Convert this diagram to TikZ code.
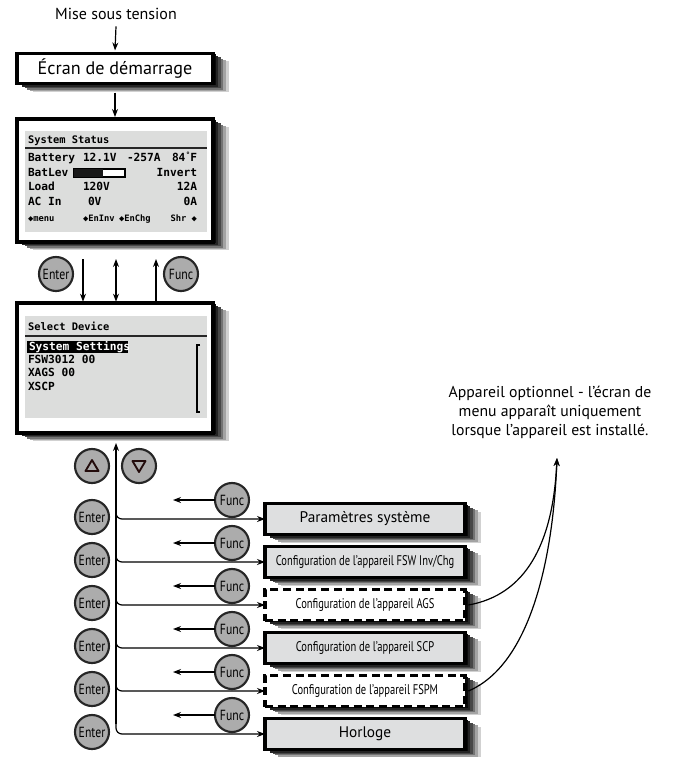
\documentclass[tikz,border=0pt]{standalone}
\usepackage{fontspec}
\usepackage{graphicx}
\setmainfont{PT Sans}
\newfontfamily\lcd{DejaVu Sans Mono}
\usetikzlibrary{arrows.meta}
\definecolor{lcdgray}{RGB}{220,221,220}
\definecolor{boxgray}{RGB}{222,223,224}
\definecolor{btngray}{RGB}{172,172,172}
\definecolor{tricol}{RGB}{35,12,12}
\newcommand{\cond}[1]{\scalebox{0.8}[1]{#1}}
\newcommand{\condb}[1]{\scalebox{0.75}[1]{#1}}
\newcommand{\shbox}[4]{%
  \foreach \k/\cc in {6/18,5/36,4/55,3/72,2/86,1/96}{%
    \fill[black!\cc] ({#1+2.6*\k},{#2+1.4*\k}) rectangle ({#3+2.6*\k},{#4+1.4*\k});
  }}
\begin{document}
\begin{tikzpicture}[x=0.75pt,y=-0.75pt,
  every node/.style={inner sep=0pt,outer sep=0pt},
  framebox/.style={draw=black,line width=2.3pt,fill=white,minimum width=147pt},
  menubox/.style={draw=black,line width=2.3pt,fill=boxgray,minimum width=150pt,minimum height=23.5pt},
  optbox/.style={menubox,fill=white,dash pattern=on 6pt off 3.5pt},
  btn/.style={circle,draw=black!85,line width=1.6pt,fill=btngray,minimum size=25.5pt,font=\fontsize{11}{11}\selectfont},
  arr/.style={-{Stealth[length=6pt,width=4.5pt]},line width=0.9pt},
  darr/.style={{Stealth[length=6pt,width=4.5pt]}-{Stealth[length=6pt,width=4.5pt]},line width=0.9pt},
  lcdt/.style={anchor=base west,font=\lcd\bfseries\fontsize{8.4}{8.4}\selectfont},
  lcdh/.style={anchor=base west,font=\lcd\bfseries\fontsize{7.8}{7.8}\selectfont},
  lcdr/.style={lcdt,anchor=base east},
  lcdf/.style={anchor=base west,font=\lcd\bfseries\fontsize{6.6}{6.6}\selectfont},
  bigtxt/.style={font=\fontsize{11.5}{11.5}\selectfont},
  cfgtxt/.style={font=\fontsize{10.5}{10.5}\selectfont},
  notetxt/.style={font=\fontsize{11.8}{14.2}\selectfont,align=center},
  curv/.style={line width=0.7pt},
  tri/.style={draw=tricol,line width=1.4pt,line join=round},
]
\useasboundingbox (0,0) rectangle (672,757);

% shadows (solid grey steps, outer light to inner dark)
\shbox{17}{53}{213}{84}
\shbox{17}{119}{213}{242}
\shbox{17}{303}{213}{433}
\foreach \i in {0,...,5}{
  \shbox{265}{503.3+43*\i}{465}{534.7+43*\i}
}

% top
\node[font=\fontsize{12}{12}\selectfont] (mise) at (116,14) {Mise sous tension};
\node[menubox,fill=white,minimum width=147pt,minimum height=23pt,font=\fontsize{13.6}{13.6}\selectfont] (ecran) at (115,68.5) {Écran de démarrage};
\draw[arr] ([yshift=-5pt]mise.south) -- ([yshift=2pt]ecran.north);

% status screen
\node[framebox,minimum height=92.25pt] (status) at (115,180.5) {};
\fill[lcdgray] (25,131) rectangle (207,232);
\draw[arr] ([yshift=-6.5pt]ecran.south) -- ([yshift=1.5pt]status.north);
\node[lcdh] (st) at (28,143.5) {System Status};
\draw[line width=1.1pt,black!85] (25,148) -- (207,148);
\node[lcdt] (r1a) at (28,161.5) {Battery};
\node[lcdt] (r1b) at (83,161.5) {12.1V};
\node[lcdt] (r1c) at (127,161.5) {-257A};
\node[lcdt] (r1d) at (172,161.5) {84};
\node[lcdr] (r1e) at (197,161.5) {\llap{\raisebox{3pt}{\fontsize{5.5}{5.5}\selectfont°}}F};
\node[lcdt] (r2a) at (28,176.5) {BatLev};
\draw[line width=0.8pt,fill=white] (74,169) rectangle (125,177);
\fill[black!90] (74,169) rectangle (103,177);
\node[lcdr] (r2b) at (197,176.5) {Invert};
\node[lcdt] (r3a) at (28,190.5) {Load};
\node[lcdt] (r3b) at (83,190.5) {120V};
\node[lcdr] (r3c) at (197,190.5) {12A};
\node[lcdt] (r4a) at (28,205.5) {AC In};
\node[lcdt] (r4b) at (88,205.5) {0V};
\node[lcdr] (r4c) at (197,205.5) {0A};
\node[lcdf] (r5a) at (28,221) {◆menu};
\node[lcdf] (r5b) at (83,221) {◆EnInv};
\node[lcdf] (r5c) at (119,221) {◆EnChg};
\node[lcdf,anchor=base east] (r5d) at (197,221) {Shr ◆};

% select device screen
\node[framebox,minimum height=97.5pt] (sel) at (115,368) {};
\fill[lcdgray] (25,316) rectangle (207,418);
\node[lcdh] (sd) at (28,330.5) {Select Device};
\draw[line width=1.1pt,black!85] (25,336) -- (207,336);
\fill[black] (27,341) rectangle (128,353);
\node[lcdt,text=white] (s1) at (29,350.5) {System Settings};
\node[lcdt] (s2) at (28,363.5) {FSW3012 00};
\node[lcdt] (s3) at (28,376.5) {XAGS 00};
\node[lcdt] (s4) at (28,390.5) {XSCP};
\draw[line width=0.9pt] (200,345) -- (197,345) -- (197,412) -- (200,412);

% buttons between screens
\node[btn] (e0) at (56,274) {\cond{Enter}};
\node[btn] (f0) at (181,274) {\cond{Func}};
\draw[arr] ([xshift=-24pt,yshift=-12.75pt]status.south) -- ([xshift=-24pt,yshift=1pt]sel.north);
\draw[darr] ([xshift=0.75pt,yshift=-12.75pt]status.south) -- ([xshift=0.75pt,yshift=1pt]sel.north);
\draw[arr] ([xshift=30.75pt,yshift=1pt]sel.north) -- ([xshift=30.75pt,yshift=-12.75pt]status.south);

% up/down buttons
\node[btn] (up) at (92,466) {};
\node[btn] (dn) at (139,466) {};
\draw[tri,shift={(up.center)}] (-6.5,5) -- (6.5,5) -- (0,-6) -- cycle;
\draw[tri,shift={(dn.center)}] (-6.5,-5) -- (6.5,-5) -- (0,6) -- cycle;

% menu boxes
\node[menubox,bigtxt] (b0) at (365,519) {Paramètres système};
\node[menubox,cfgtxt] (b1) at (365,562) {\condb{Configuration de l'appareil FSW Inv/Chg}};
\node[optbox,cfgtxt] (b2) at (365,605) {\condb{Configuration de l'appareil AGS}};
\node[menubox,cfgtxt] (b3) at (365,648) {\condb{Configuration de l'appareil SCP}};
\node[optbox,cfgtxt] (b4) at (365,691) {\condb{Configuration de l'appareil FSPM}};
\node[menubox,bigtxt] (b5) at (365,734) {Horloge};

% main vertical
\coordinate (vtop) at (116,443);
\coordinate (vbot) at (116,724);
\draw[arr] (vbot) -- (vtop);

\foreach \i in {0,...,5}{
  \node[btn] (e\i) at (92,{517+43*\i}) {\cond{Enter}};
  \node[btn] (fn\i) at (232,{500+43*\i}) {\cond{Func}};
  \coordinate (fa\i) at (173,{500+43*\i});
  \draw[arr] (fn\i.west) -- (fa\i);
  \coordinate (vs\i) at (116,{507+43*\i});
  \draw[arr,rounded corners=4.5pt] (vs\i) |- (b\i.west);
}

% note
\node[notetxt] (note) at (550,412) {Appareil optionnel - l'écran de\\menu apparaît uniquement\\lorsque l'appareil est installé.};
\coordinate (tip) at (557,458);
\draw[curv,arr] ([xshift=2.5pt]b2.east) .. controls (525,595) and (553,545) .. (tip);
\draw[curv,arr] ([xshift=2.5pt]b4.east) .. controls (530,665) and (553,560) .. (tip);
\end{tikzpicture}
\end{document}
